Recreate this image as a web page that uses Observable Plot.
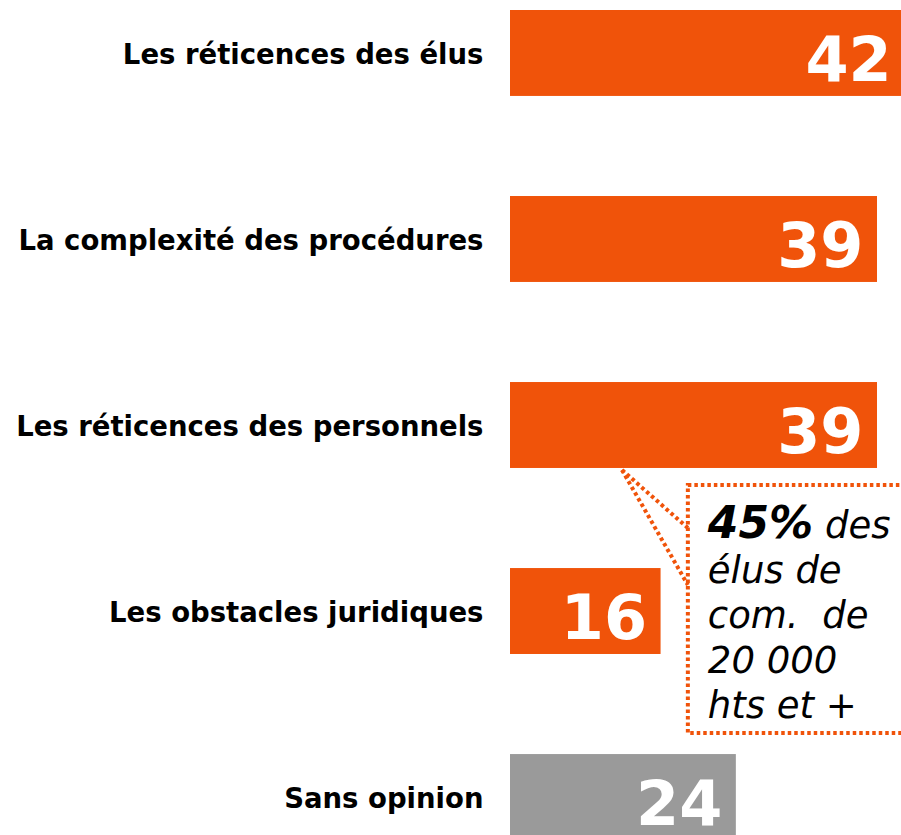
<!DOCTYPE html>
<html>
<head>
<meta charset="utf-8">
<script src="https://cdn.jsdelivr.net/npm/d3@7"></script>
<script src="https://cdn.jsdelivr.net/npm/@observablehq/plot@0.6"></script>
<style>
  html, body { margin: 0; padding: 0; background: #ffffff; overflow: hidden; }
  #chart svg { display: block; }
</style>
</head>
<body>
<div id="chart"></div>
<script>
// ---- data ----
const categories = [
  "Les réticences des élus",
  "La complexité des procédures",
  "Les réticences des personnels",
  "Les obstacles juridiques",
  "Sans opinion"
];
const values = [42, 39, 39, 16, 24];
const neutralCategory = "Sans opinion";

// callout annotation
const noteTarget = "Les réticences des personnels";
const noteBold = "45%";
const noteLines = [" des", "élus de", "com.  de", "20 000", "hts et +"];

// ---- styles ----
const ORANGE = "#F0530A";
const GRAY = "#9A9A9A";

const data = categories.map((c, i) => ({label: c, value: values[i]}));

const plot = Plot.plot({
  width: 901,
  height: 835,
  marginLeft: 510,
  marginRight: 0,
  marginTop: 0,
  marginBottom: 0,
  style: {fontFamily: "'DejaVu Sans', Verdana, sans-serif", background: "#ffffff", overflow: "hidden"},
  x: {domain: [0, 41.55], axis: null},
  y: {domain: categories, range: [10, 840], paddingInner: 0.538, paddingOuter: 0, round: false, axis: null},
  marks: [
    Plot.barX(data, {
      x: "value", y: "label",
      fill: d => d.label === neutralCategory ? GRAY : ORANGE,
      clip: true
    }),
    Plot.text(data, {
      x: "value", y: "label", text: d => String(d.value),
      textAnchor: "end", dx: -14, dy: 8,
      fill: "white", fontSize: 62, fontWeight: "bold"
    }),
    Plot.text(data, {
      x: 0, y: "label", text: "label",
      textAnchor: "end", dx: -27, dy: 2,
      fill: "black", fontSize: 27.5, fontWeight: "bold"
    })
  ]
});

document.getElementById("chart").appendChild(plot);

// ---- callout annotation, positioned through the plot's scales ----
const xs = plot.scale("x");
const ys = plot.scale("y");
const bw = ys.bandwidth;
const targetBottom = ys.apply(noteTarget) + bw;
const lastTop = ys.apply(categories[categories.length - 1]);

const anchorX = xs.apply(11.9);
const boxX = xs.apply(18.9);
const boxTop = targetBottom + 17;
const boxBottom = lastTop - 21;

const svg = d3.select(plot);
const g = svg.append("g")
  .attr("fill", "none")
  .attr("stroke", ORANGE)
  .attr("stroke-width", 4)
  .attr("stroke-dasharray", "3.5 3");

g.append("rect")
  .attr("x", boxX).attr("y", boxTop)
  .attr("width", 901 - boxX + 20).attr("height", boxBottom - boxTop);

g.append("line")
  .attr("x1", anchorX).attr("y1", targetBottom + 2)
  .attr("x2", boxX).attr("y2", boxTop + 43);
g.append("line")
  .attr("x1", anchorX).attr("y1", targetBottom + 2)
  .attr("x2", boxX).attr("y2", boxTop + 100);

const t = svg.append("g")
  .attr("font-family", "'DejaVu Sans', Verdana, sans-serif")
  .attr("font-size", 37)
  .attr("font-style", "italic")
  .attr("text-anchor", "start")
  .attr("fill", "black");

noteLines.forEach((line, i) => {
  const txt = t.append("text")
    .attr("x", boxX + 20)
    .attr("y", boxTop + 53 + i * 45);
  if (i === 0) {
    txt.append("tspan").attr("font-weight", "bold").attr("font-size", 44).text(noteBold);
    txt.append("tspan").text(line);
  } else {
    txt.text(line);
  }
});
</script>
</body>
</html>
